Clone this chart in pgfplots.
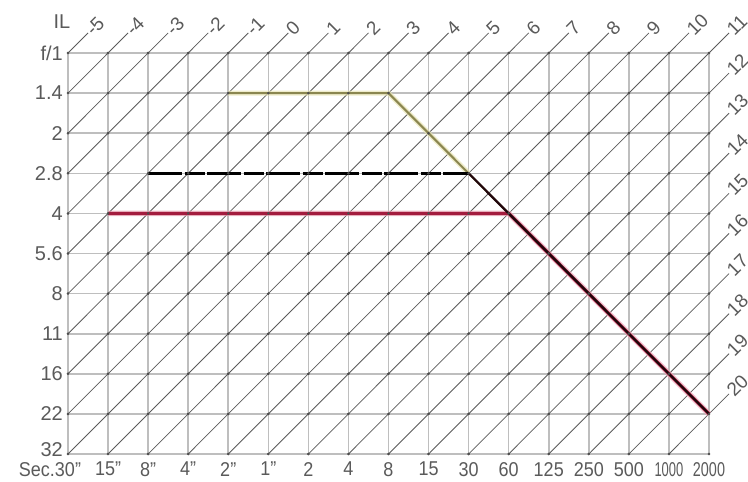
\documentclass[border=0pt]{standalone}
\usepackage{pgfplots}
\pgfplotsset{compat=1.18}
\usepackage{fontspec}
\setmainfont{Liberation Sans}
\definecolor{gridc}{HTML}{BEBEBE}
\definecolor{diagc}{HTML}{5A5A5A}
\definecolor{txt}{HTML}{5A5A5A}
\definecolor{olivel}{HTML}{8A8650}
\definecolor{oliveh}{HTML}{E8E4B4}
\definecolor{redl}{HTML}{A31C3E}
\definecolor{redh}{HTML}{EBA8B8}
\tikzset{
  diag/.style={diagc, line width=0.8pt},
  lab/.style={pos=1, anchor=west, rotate=45, inner sep=1pt, text=txt, font=\fontsize{19}{21}\selectfont},
}
\begin{document}
\begin{tikzpicture}
\useasboundingbox (-68pt,-28pt) rectangle (680pt,454pt);
\begin{axis}[
  at={(0pt,0pt)}, anchor=south west,
  scale only axis, width=641pt, height=401pt,
  xmin=0, xmax=16, ymin=0, ymax=10, y dir=reverse,
  xtick={0,...,16}, ytick={0,...,10},
  xticklabels={\llap{Sec.}30", 15", 8", 4", 2", 1", 2, 4, 8, 15, 30, 60, 125, 250, 500, \scalebox{0.72}[1]{1000}, \scalebox{0.8}[1]{2000}},
  yticklabels={f/1,1.4,2,2.8,4,5.6,8,11,16,22,\raisebox{-2pt}[0pt][0pt]{32}},
  grid=major, major grid style={gridc, line width=1.6pt},
  axis line style={gridc, line width=1.6pt},
  major tick length=0pt,
  clip=false,
  tick label style={font=\fontsize{20}{22}\selectfont, text=txt},
  xticklabel style={anchor=north, inner sep=0pt, yshift=-8pt, xscale=0.9},
  yticklabel style={anchor=east, inner sep=0pt, xshift=-5pt},
]
% constant-exposure (IL) lines
\addplot[diag] coordinates {(0,0)(0.5,-0.5)} node[lab]{-5};
\addplot[diag] coordinates {(0,1)(1.5,-0.5)} node[lab]{-4};
\addplot[diag] coordinates {(0,2)(2.5,-0.5)} node[lab]{-3};
\addplot[diag] coordinates {(0,3)(3.5,-0.5)} node[lab]{-2};
\addplot[diag] coordinates {(0,4)(4.5,-0.5)} node[lab]{-1};
\addplot[diag] coordinates {(0,5)(5.5,-0.5)} node[lab]{0};
\addplot[diag] coordinates {(0,6)(6.5,-0.5)} node[lab]{1};
\addplot[diag] coordinates {(0,7)(7.5,-0.5)} node[lab]{2};
\addplot[diag] coordinates {(0,8)(8.5,-0.5)} node[lab]{3};
\addplot[diag] coordinates {(0,9)(9.5,-0.5)} node[lab]{4};
\addplot[diag] coordinates {(0,10)(10.5,-0.5)} node[lab]{5};
\addplot[diag] coordinates {(1,10)(11.5,-0.5)} node[lab]{6};
\addplot[diag] coordinates {(2,10)(12.5,-0.5)} node[lab]{7};
\addplot[diag] coordinates {(3,10)(13.5,-0.5)} node[lab]{8};
\addplot[diag] coordinates {(4,10)(14.5,-0.5)} node[lab]{9};
\addplot[diag] coordinates {(5,10)(15.5,-0.5)} node[lab]{10};
\addplot[diag] coordinates {(6,10)(16.5,-0.5)} node[lab]{11};
\addplot[diag] coordinates {(7,10)(16.5,0.5)} node[lab]{12};
\addplot[diag] coordinates {(8,10)(16.5,1.5)} node[lab]{13};
\addplot[diag] coordinates {(9,10)(16.5,2.5)} node[lab]{14};
\addplot[diag] coordinates {(10,10)(16.5,3.5)} node[lab]{15};
\addplot[diag] coordinates {(11,10)(16.5,4.5)} node[lab]{16};
\addplot[diag] coordinates {(12,10)(16.5,5.5)} node[lab]{17};
\addplot[diag] coordinates {(13,10)(16.5,6.5)} node[lab]{18};
\addplot[diag] coordinates {(14,10)(16.5,7.5)} node[lab]{19};
\addplot[diag] coordinates {(15,10)(16.5,8.5)} node[lab]{20};
% intersection dots of the grid
\pgfplotsinvokeforeach{0,...,10}{
  \addplot[only marks, mark=*, mark size=1.1pt, color=diagc!85!black] coordinates {(0,#1)(1,#1)(2,#1)(3,#1)(4,#1)(5,#1)(6,#1)(7,#1)(8,#1)(9,#1)(10,#1)(11,#1)(12,#1)(13,#1)(14,#1)(15,#1)(16,#1)};
}
% program lines
\addplot[oliveh, line width=5pt, opacity=0.7] coordinates {(4,1)(8,1)(10,3)};
\addplot[olivel, line width=2pt] coordinates {(4,1)(8,1)(10,3)(16,9)};
\addplot[redh, line width=5.5pt, opacity=0.7] coordinates {(1,4)(11,4)(16,9)};
\addplot[redl, line width=3.2pt] coordinates {(1,4)(11,4)(16,9)};
\addplot[black, line width=2.6pt, dash pattern=on 34pt off 2.5pt on 20pt off 2.5pt] coordinates {(2,3)(10,3)};
\addplot[black!80!redl, line width=2.2pt] coordinates {(10,3)(16,9)};
\node[text=txt, font=\fontsize{20}{22}\selectfont] at (axis cs:-0.15,-0.78) {IL};
\end{axis}
\end{tikzpicture}
\end{document}
